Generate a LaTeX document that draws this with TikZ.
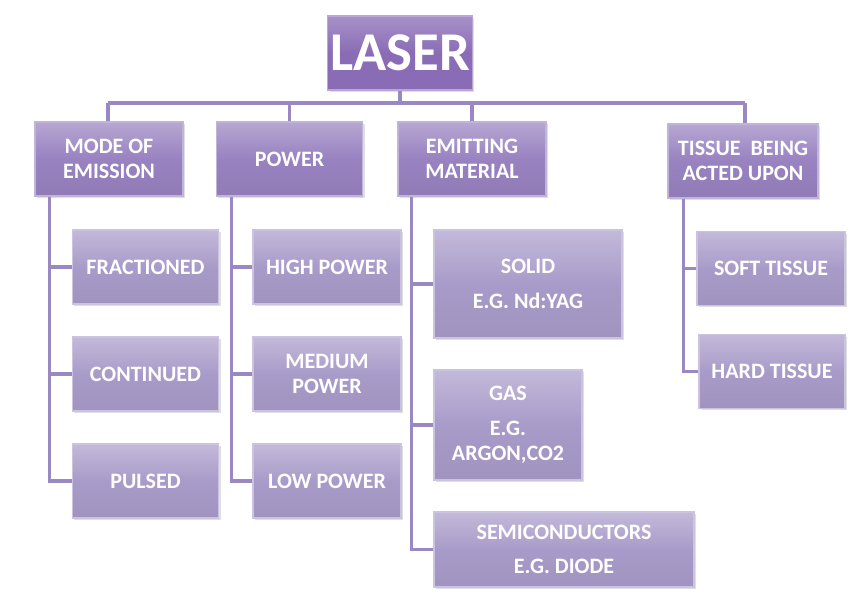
\documentclass[tikz,border=0pt]{standalone}
\usepackage{fontspec}
\setmainfont{Carlito}
\usetikzlibrary{shadows}
\definecolor{cline}{HTML}{9A88C2}
\definecolor{ctop}{HTML}{8A6CB6}
\definecolor{cmid}{HTML}{9882C0}
\definecolor{cchild}{HTML}{A99BC9}
\tikzset{
  x=0.75pt, y=-0.75pt,
  conn/.style={draw=cline, line width=2.4pt},
  basebox/.style={rectangle, text=white, font=\bfseries\fontsize{16.5}{19}\selectfont,
    align=center, inner sep=2pt,
    drop shadow={shadow xshift=1.5pt, shadow yshift=-1.5pt, opacity=0.35, fill=gray!70}},
  topbox/.style={basebox, top color=ctop!75!white, bottom color=ctop, middle color=ctop,
    draw=ctop!60!white, line width=0.8pt, font=\bfseries\fontsize{41}{44}\selectfont},
  midbox/.style={basebox, top color=cmid!70!white, bottom color=cmid!95!black, middle color=cmid,
    draw=cmid!60!white, line width=0.8pt},
  childbox/.style={basebox, top color=cchild!70!white, bottom color=cchild!95!black, middle color=cchild,
    draw=cchild!60!white, line width=0.8pt},
}
\begin{document}
\begin{tikzpicture}
\useasboundingbox[fill=white] (0,0) rectangle (862,597);

% top
\node[topbox, minimum width=108pt, minimum height=55.5pt] (laser) at (400,53) {LASER};

% level 1
\node[midbox, minimum width=111pt, minimum height=55.5pt] (mode) at (109,159) {MODE OF\\EMISSION};
\node[midbox, minimum width=110pt, minimum height=55.5pt] (power) at (289.5,159) {POWER};
\node[midbox, minimum width=111pt, minimum height=55.5pt] (emit) at (472,159) {EMITTING\\MATERIAL};
\node[midbox, minimum width=112.5pt, minimum height=55.5pt] (tissue) at (743,161) {TISSUE\ \ BEING\\ACTED UPON};

% mode children
\node[childbox, minimum width=110pt, minimum height=55.5pt] (frac) at (145.5,267) {FRACTIONED};
\node[childbox, minimum width=110pt, minimum height=55.5pt] (cont) at (145.5,374) {CONTINUED};
\node[childbox, minimum width=110pt, minimum height=55.5pt] (puls) at (145.5,481) {PULSED};

% power children
\node[childbox, minimum width=111pt, minimum height=55.5pt] (high) at (327,267) {HIGH POWER};
\node[childbox, minimum width=111pt, minimum height=55.5pt] (med) at (327,374) {MEDIUM\\POWER};
\node[childbox, minimum width=111pt, minimum height=55.5pt] (low) at (327,481) {LOW POWER};

% emitting children
\node[childbox, minimum width=141pt, minimum height=81pt] (solid) at (528,284) {SOLID\\[7pt]E.G. Nd:YAG};
\node[childbox, minimum width=111pt, minimum height=82.5pt] (gas) at (508,425) {GAS\\[7pt]E.G.\\ARGON,CO2};
\node[childbox, minimum width=195pt, minimum height=56.25pt] (semi) at (564,549.5) {SEMICONDUCTORS\\[7pt]E.G. DIODE};

% tissue children
\node[childbox, minimum width=111pt, minimum height=55pt] (soft) at (771,268.5) {SOFT TISSUE};
\node[childbox, minimum width=109.5pt, minimum height=55pt] (hard) at (772,371.5) {HARD TISSUE};

% bus
\coordinate (busL) at (108,103);
\coordinate (busR) at (745,103);
\begin{scope}[on background layer/.try]
\end{scope}
\draw[conn] (laser.south) -- (laser.south |- busL);
\draw[conn] (busL) -- (busR);
\draw[conn] (mode.north -| busL) -- (busL);
\draw[conn] (power.north) -- (power.north |- busL);
\draw[conn] (emit.north) -- (emit.north |- busL);
\draw[conn] (tissue.north -| busR) -- (busR);

% spines
\draw[conn] ([xshift=11.25pt]mode.south west) |- (frac.west);
\draw[conn] ([xshift=11.25pt]mode.south west) |- (cont.west);
\draw[conn] ([xshift=11.25pt]mode.south west) |- (puls.west);
\draw[conn] ([xshift=12pt]power.south west) |- (high.west);
\draw[conn] ([xshift=12pt]power.south west) |- (med.west);
\draw[conn] ([xshift=12pt]power.south west) |- (low.west);
\draw[conn] ([xshift=10.5pt]emit.south west) |- (solid.west);
\draw[conn] ([xshift=10.5pt]emit.south west) |- (gas.west);
\draw[conn] ([xshift=10.5pt]emit.south west) |- (semi.west);
\draw[conn] ([xshift=12pt]tissue.south west) |- (soft.west);
\draw[conn] ([xshift=12pt]tissue.south west) |- (hard.west);
\end{tikzpicture}
\end{document}
